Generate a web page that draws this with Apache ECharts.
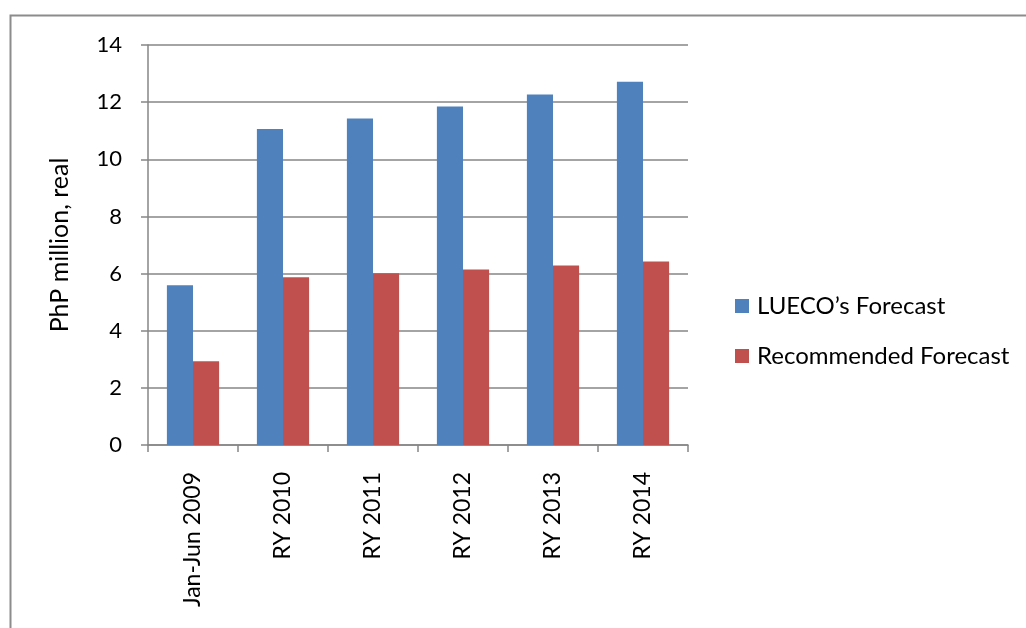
<!DOCTYPE html>
<html>
<head>
<meta charset="utf-8">
<script src="https://cdn.jsdelivr.net/npm/echarts@6/dist/echarts.min.js"></script>
<style>
  html, body { margin: 0; padding: 0; background: #ffffff; }
  #chart { width: 1026px; height: 628px; }
</style>
</head>
<body>
<div id="chart"></div>
<script>
// Forecast periods and revenue values (PhP million, real)
const categories = ['Jan-Jun 2009', 'RY 2010', 'RY 2011', 'RY 2012', 'RY 2013', 'RY 2014'];
const luecoForecast = [5.59, 11.06, 11.43, 11.85, 12.27, 12.71];
const recommendedForecast = [2.93, 5.87, 6.01, 6.14, 6.28, 6.42];
const seriesNames = ['LUECO’s Forecast', 'Recommended Forecast'];
const yAxisTitle = 'PhP million, real';

const FONT = 'Lato, "Open Sans", sans-serif';
const GRID_GRAY = '#868686';

const chart = echarts.init(document.getElementById('chart'), null, { renderer: 'canvas' });

chart.setOption({
  backgroundColor: '#ffffff',
  animation: false,
  textStyle: { fontFamily: FONT },
  graphic: [
    // frame around the chart area (top and left edges)
    {
      type: 'polyline',
      shape: { points: [[10.5, 628], [10.5, 15.5], [1026, 15.5]] },
      style: { stroke: '#8c8c8c', lineWidth: 2, fill: null },
      silent: true
    }
  ],
  grid: { left: 148, right: 338, top: 45, bottom: 183 },
  legend: {
    orient: 'vertical',
    left: 730,
    top: 289,
    itemWidth: 14,
    itemHeight: 14,
    itemGap: 26,
    icon: 'rect',
    textStyle: { fontSize: 24, lineHeight: 24, color: '#000000', fontFamily: FONT, padding: [0, 0, 0, 3] },
    data: seriesNames
  },
  xAxis: {
    type: 'category',
    data: categories,
    boundaryGap: true,
    axisLine: { show: true, lineStyle: { color: GRID_GRAY, width: 1.5 } },
    axisTick: { show: true, length: 7, alignWithLabel: false, lineStyle: { color: GRID_GRAY, width: 1.5 } },
    axisLabel: { rotate: 90, fontSize: 23, color: '#000000', margin: 27, fontFamily: FONT, interval: 0 },
    splitLine: { show: false }
  },
  yAxis: {
    type: 'value',
    min: 0,
    max: 14,
    interval: 2,
    name: yAxisTitle,
    nameLocation: 'middle',
    nameGap: 76,
    nameTextStyle: { fontSize: 25, color: '#000000', fontFamily: FONT },
    axisLine: { show: true, lineStyle: { color: GRID_GRAY, width: 1.5 } },
    axisTick: { show: true, length: 7, lineStyle: { color: GRID_GRAY, width: 1.5 } },
    axisLabel: { fontSize: 22, color: '#000000', margin: 26, fontFamily: FONT },
    splitLine: { show: true, lineStyle: { color: GRID_GRAY, width: 1.5 } }
  },
  series: [
    {
      name: seriesNames[0],
      type: 'bar',
      data: luecoForecast,
      barGap: '0%',
      barCategoryGap: '42%',
      itemStyle: { color: '#4F81BD' }
    },
    {
      name: seriesNames[1],
      type: 'bar',
      data: recommendedForecast,
      barGap: '0%',
      barCategoryGap: '42%',
      itemStyle: { color: '#C0504D' }
    }
  ]
});
</script>
</body>
</html>
